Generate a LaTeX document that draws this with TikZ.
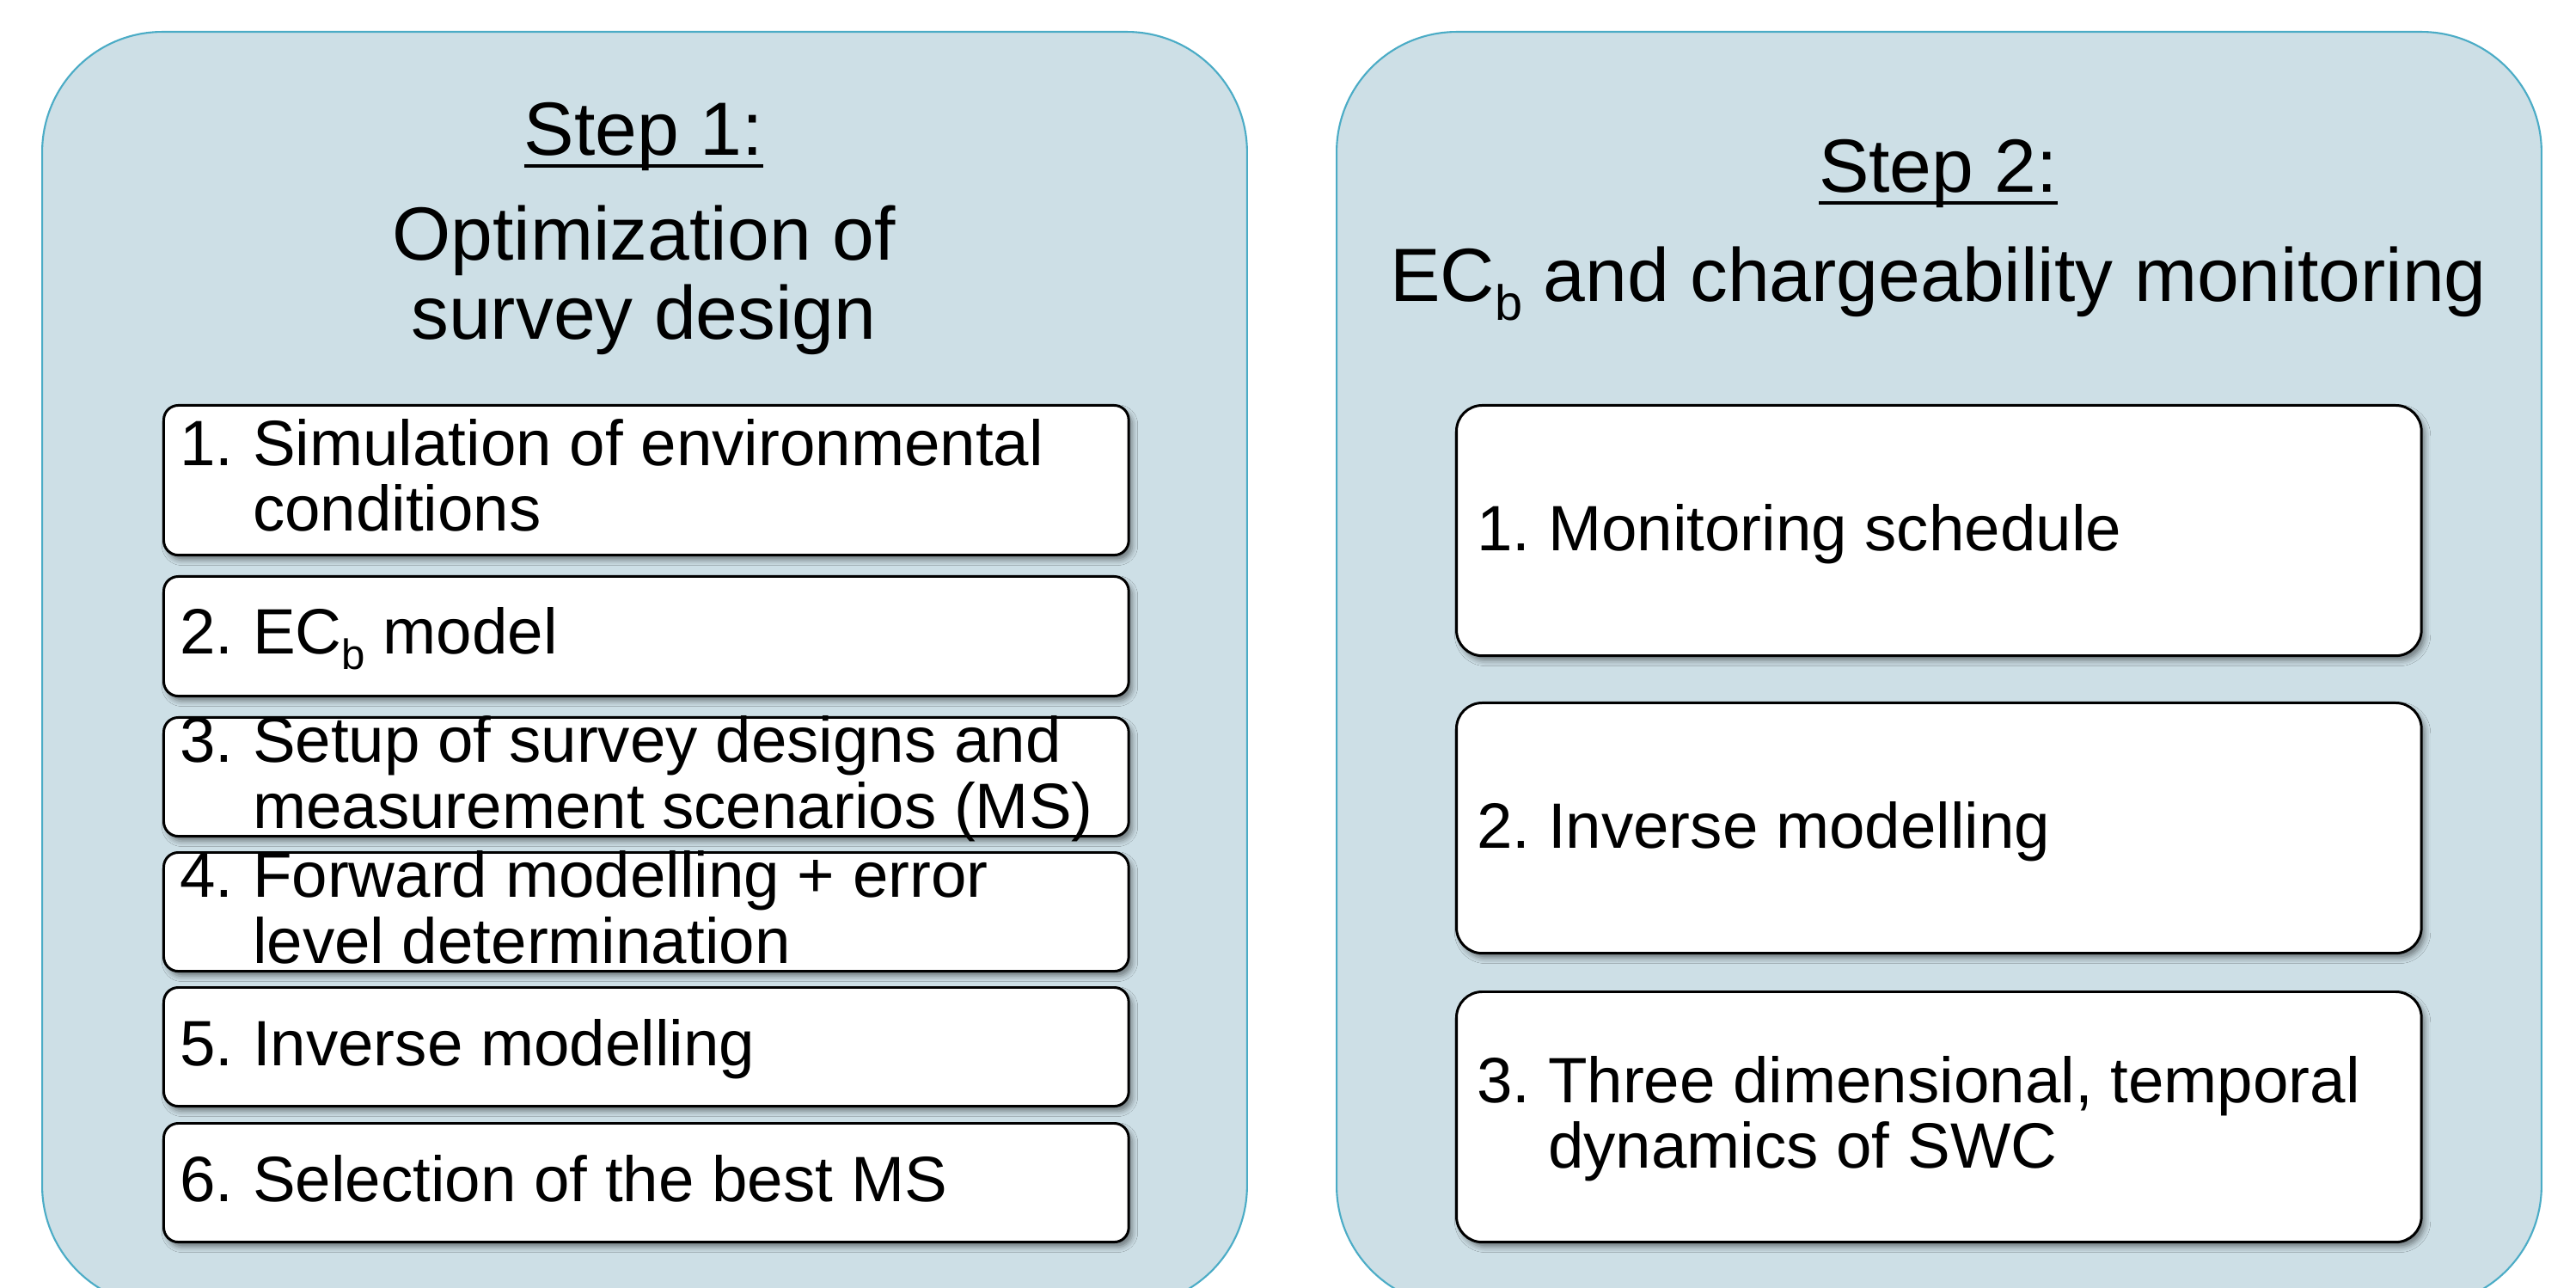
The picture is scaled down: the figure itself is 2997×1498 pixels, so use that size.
\documentclass[tikz,border=0pt]{standalone}
\usepackage{fontspec}
\setmainfont{Liberation Sans}
\usetikzlibrary{shadows.blur}
\definecolor{panelfill}{RGB}{205,223,230}
\definecolor{paneledge}{RGB}{75,172,198}
\newcommand{\myboxfont}{\fontsize{21.2}{22}\selectfont}
\newcommand{\mytitlefont}{\fontsize{24.95}{26}\selectfont}
\newcommand{\mytsub}[1]{\raisebox{-6.2pt}{\fontsize{16.4}{16.4}\selectfont #1}}
\newcommand{\mybsub}[1]{\raisebox{-5.0pt}{\fontsize{14}{14}\selectfont #1}}
\begin{document}
\begin{tikzpicture}[x=0.01cm, y=-0.01cm,
  panel/.style={fill=panelfill, draw=paneledge, line width=0.6pt, rounded corners=39.8pt,
    inner sep=0, anchor=north west, minimum width=14.01cm, minimum height=14.81cm},
  stepbox/.style={draw=black, line width=0.85pt, fill=white, rounded corners=4.8pt,
    blur shadow={shadow xshift=1.2pt, shadow yshift=-1.6pt, shadow blur radius=1.8pt, shadow opacity=45},
    inner sep=0, anchor=north west, minimum width=11.22cm},
  bigbox/.style={stepbox, rounded corners=8.5pt, minimum height=2.91cm},
  txt/.style={inner sep=0, outer sep=0, anchor=base west, font=\myboxfont},
  ttl/.style={inner sep=0, outer sep=0, anchor=base, font=\mytitlefont},
  uline/.style={line width=1.25pt}
]
\useasboundingbox (0,0) rectangle (2997,1498);
\clip (0,0) rectangle (2997,1498);
\fill[white] (0,0) rectangle (2997,1498);

% panels
\node[panel] (p1) at (48,36) {};
\node[panel] (p2) at (1554,36) {};

% titles left
\node[ttl] (s1) at (749,181) {Step 1:};
\draw[uline] ([yshift=-3.4pt]s1.base west) -- ([yshift=-3.4pt]s1.base east);
\node[ttl] (t1a) at (749,303) {Optimization of};
\node[ttl] (t1b) at (749,395) {survey design};

% titles right
\node[ttl] (s2) at (2255,224) {Step 2:};
\draw[uline] ([yshift=-3.4pt]s2.base west) -- ([yshift=-3.4pt]s2.base east);
\node[ttl] (t2) at (2255,351) {EC\mytsub{b} and chargeability monitoring};

% left boxes
\node[stepbox, minimum height=1.74cm] (b1) at (189,470) {};
\node[stepbox, minimum height=1.39cm] (b2) at (189,669) {};
\node[stepbox, minimum height=1.38cm] (b3) at (189,833) {};
\node[stepbox, minimum height=1.38cm] (b4) at (189,990) {};
\node[stepbox, minimum height=1.38cm] (b5) at (189,1147) {};
\node[stepbox, minimum height=1.38cm] (b6) at (189,1305) {};

\node[txt] (b1n) at (209,542) {1.};
\node[txt] (b1a) at (294,542) {Simulation of environmental};
\node[txt] (b1b) at (294,618) {conditions};

\node[txt] (b2n) at (209,761) {2.};
\node[txt] (b2a) at (294,761) {EC\mybsub{b} model};

\node[txt] (b3n) at (209,887) {3.};
\node[txt] (b3a) at (294,887) {Setup of survey designs and};
\node[txt] (b3b) at (294,963) {measurement scenarios (MS)};

\node[txt] (b4n) at (209,1044) {4.};
\node[txt] (b4a) at (294,1044) {Forward modelling + error};
\node[txt] (b4b) at (294,1120) {level determination};

\node[txt] (b5n) at (209,1239) {5.};
\node[txt] (b5a) at (294,1239) {Inverse modelling};

\node[txt] (b6n) at (209,1397) {6.};
\node[txt] (b6a) at (294,1397) {Selection of the best MS};

% right boxes
\node[bigbox] (r1) at (1693,470) {};
\node[bigbox] (r2) at (1693,816) {};
\node[bigbox] (r3) at (1693,1152) {};

\node[txt] (r1n) at (1718,641) {1.};
\node[txt] (r1a) at (1801,641) {Monitoring schedule};

\node[txt] (r2n) at (1718,986) {2.};
\node[txt] (r2a) at (1801,986) {Inverse modelling};

\node[txt] (r3n) at (1718,1282) {3.};
\node[txt] (r3a) at (1801,1282) {Three dimensional, temporal};
\node[txt] (r3b) at (1801,1358) {dynamics of SWC};
\end{tikzpicture}
\end{document}
